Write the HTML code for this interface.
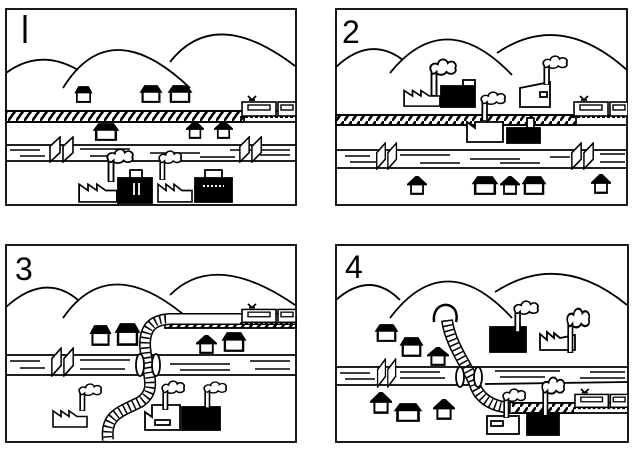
<!DOCTYPE html>
<html><head><meta charset="utf-8"><style>html,body{margin:0;padding:0;background:#fff}svg{display:block}</style></head>
<body>
<svg width="640" height="449" viewBox="0 0 640 449" xmlns="http://www.w3.org/2000/svg" fill="none" stroke="#000" stroke-width="1.8">
<defs>
<pattern id="hatch" patternUnits="userSpaceOnUse" width="8" height="11"><line x1="0" y1="11" x2="8" y2="0" stroke="#000" stroke-width="2.6"/></pattern>
<symbol id="H" viewBox="0 0 20 16" preserveAspectRatio="none"><polygon points="2,6 5,1 15,1 18,6" fill="#000"/><rect x="3" y="6" width="14" height="9" fill="#fff" stroke="#000" stroke-width="1.8"/></symbol>
<symbol id="P" viewBox="0 0 20 16" preserveAspectRatio="none"><polygon points="1,7 10,0 19,7" fill="#000"/><rect x="4" y="7" width="12" height="8" fill="#fff" stroke="#000" stroke-width="1.8"/></symbol>
<symbol id="F" viewBox="0 0 36 24" preserveAspectRatio="none"><path d="M1,23 V6 L9,12 V6 L17,12 V6 L25,12 H35 V23 Z" fill="#fff" stroke="#000" stroke-width="1.6"/></symbol>
<symbol id="S" viewBox="0 0 24 30" preserveAspectRatio="none"><rect x="2" y="10" width="4" height="20" fill="#fff" stroke="#000" stroke-width="1.5"/><path d="M2,11 C-1,6 4,3 7,5 C8,0 14,0 15,4 C18,1 23,4 21,8 C23,12 17,14 14,11 C12,14 6,14 6,11 C4,13 2,13 2,11Z" fill="#fff" stroke="#000" stroke-width="1.5"/></symbol>
<symbol id="T" viewBox="0 0 56 24" preserveAspectRatio="none"><path d="M8,1 L12,5 L16,1 M9,5 H15" stroke="#000" stroke-width="1.8"/><rect x="2" y="7" width="34" height="14" fill="#fff" stroke="#000" stroke-width="1.6"/><rect x="8" y="10" width="22" height="5" fill="#fff" stroke="#000" stroke-width="1.4"/><rect x="38" y="7" width="18" height="14" fill="#fff" stroke="#000" stroke-width="1.6"/><rect x="41" y="10" width="12" height="5" fill="#fff" stroke="#000" stroke-width="1.4"/><line x1="0" y1="22" x2="56" y2="22" stroke="#000" stroke-width="2" stroke-dasharray="3 2"/></symbol>
<symbol id="L" viewBox="0 0 28 26" preserveAspectRatio="none"><path d="M2,25 V10 L12,1 V16 Z M15,25 V10 L25,1 V16 Z" fill="#fff" stroke="#000" stroke-width="1.6"/></symbol>
</defs>

<!-- PANEL 1 -->
<rect x="6" y="9" width="290" height="196"/>
<line x1="25" y1="15" x2="25" y2="43" stroke-width="3"/>
<path d="M6,73 Q40,48 78,70 M63,88 Q110,12 190,88 M170,62 Q215,5 295,66"/>
<use href="#H" x="74" y="86" width="19" height="17"/>
<use href="#H" x="139" y="85" width="24" height="18"/>
<use href="#H" x="167" y="85" width="26" height="18"/>
<rect x="6" y="111" width="238" height="11" fill="url(#hatch)"/>
<line x1="6" y1="111" x2="296" y2="111"/><line x1="6" y1="122" x2="296" y2="122"/>
<use href="#T" x="240" y="95" width="56" height="24"/>
<use href="#H" x="92" y="123" width="28" height="18"/>
<use href="#P" x="186" y="121" width="18" height="18"/>
<use href="#P" x="214" y="121" width="19" height="18"/>
<line x1="6" y1="145" x2="296" y2="145"/><line x1="6" y1="161" x2="296" y2="161"/>
<path d="M10,150 H40 M80,149 H130 M150,153 H200 M230,150 H290 M20,156 H45 M90,156 H120 M200,157 H235 M260,155 H290" stroke-width="1.4"/>
<use href="#L" x="48" y="136" width="28" height="27"/>
<use href="#L" x="238" y="136" width="26" height="27"/>
<use href="#F" x="78" y="178" width="40" height="25"/>
<use href="#S" x="106" y="148" width="30" height="34"/>
<rect x="118" y="178" width="34" height="25" fill="#000"/><rect x="130" y="170" width="12" height="8" fill="#fff"/>
<line x1="134" y1="183" x2="134" y2="195" stroke="#fff"/><line x1="139" y1="183" x2="139" y2="195" stroke="#fff"/>
<use href="#F" x="157" y="178" width="36" height="25"/>
<use href="#S" x="158" y="150" width="26" height="30"/>
<rect x="195" y="178" width="37" height="24" fill="#000"/><rect x="205" y="170" width="17" height="8" fill="#fff"/>
<line x1="203" y1="186" x2="224" y2="186" stroke="#fff" stroke-width="2" stroke-dasharray="2 2"/>

<!-- PANEL 2 -->
<rect x="336" y="9" width="291" height="196"/>
<text x="342" y="43" font-family="Liberation Sans, sans-serif" font-size="32" fill="#000" stroke="none">2</text>
<path d="M336,67 Q370,35 403,60 M390,73 Q445,5 512,75 M497,53 Q560,10 627,70"/>
<use href="#F" x="403" y="85" width="38" height="22"/>
<use href="#S" x="429" y="58" width="30" height="38"/>
<rect x="441" y="86" width="34" height="21" fill="#000"/><rect x="463" y="80" width="12" height="6" fill="#fff"/>
<path d="M520,107 V88 L550,82 V107 Z" fill="#fff"/><rect x="540" y="92" width="7" height="5"/>
<use href="#S" x="542" y="55" width="28" height="30"/>
<rect x="336" y="115" width="240" height="10" fill="url(#hatch)"/>
<line x1="336" y1="115" x2="627" y2="115"/><line x1="336" y1="125" x2="627" y2="125"/>
<use href="#T" x="572" y="95" width="56" height="24"/>
<path d="M467,142 V122 L475,128 V122 L503,122 V142 Z" fill="#fff"/>
<use href="#S" x="480" y="91" width="28" height="30"/>
<rect x="507" y="128" width="33" height="15" fill="#000"/><rect x="527" y="118" width="7" height="10" fill="#fff"/>
<line x1="336" y1="150" x2="627" y2="150"/><line x1="336" y1="168" x2="627" y2="168"/>
<path d="M345,156 H370 M400,155 H450 M470,159 H520 M550,157 H570 M600,154 H625 M350,162 H380 M420,163 H460 M500,163 H540 M600,162 H625" stroke-width="1.4"/>
<use href="#L" x="375" y="142" width="24" height="28"/>
<use href="#L" x="570" y="142" width="26" height="28"/>
<use href="#P" x="407" y="176" width="20" height="19"/>
<use href="#H" x="471" y="176" width="28" height="19"/>
<use href="#P" x="500" y="176" width="20" height="19"/>
<use href="#H" x="521" y="176" width="26" height="19"/>
<use href="#P" x="591" y="174" width="20" height="20"/>

<!-- PANEL 3 -->
<rect x="6" y="245" width="290" height="197"/>
<text x="15" y="280" font-family="Liberation Sans, sans-serif" font-size="32" fill="#000" stroke="none">3</text>
<path d="M6,307 Q45,272 78,300 M63,318 Q110,250 190,320 M170,295 Q215,250 295,305"/>
<use href="#H" x="89" y="325" width="23" height="21"/>
<use href="#H" x="114" y="323" width="27" height="23"/>
<use href="#P" x="196" y="335" width="21" height="19"/>
<use href="#H" x="221" y="332" width="26" height="20"/>
<line x1="6" y1="355" x2="296" y2="355"/><line x1="6" y1="375" x2="296" y2="375"/>
<path d="M10,361 H40 M80,360 H130 M170,364 H230 M250,361 H290 M20,368 H45 M80,369 H125 M180,370 H230 M255,369 H290" stroke-width="1.4"/>
<use href="#L" x="50" y="347" width="26" height="30"/>
<rect x="165" y="318" width="131" height="10" fill="url(#hatch)"/>
<path d="M296,319 H170 C150,320 145,330 145,345 C147,375 158,390 140,402 C120,412 105,415 108,440" stroke-width="12"/>
<path d="M296,319 H170 C150,320 145,330 145,345 C147,375 158,390 140,402 C120,412 105,415 108,440" stroke="#fff" stroke-width="9"/>
<path d="M166,319 C150,320 145,330 145,345 C147,375 158,390 140,402 C120,412 105,415 108,440" stroke-width="9" stroke-dasharray="1.5 3.5"/>
<ellipse cx="140" cy="365" rx="4" ry="11" fill="#fff"/><ellipse cx="156" cy="365" rx="4" ry="11" fill="#fff"/>
<use href="#T" x="240" y="303" width="56" height="22"/>
<use href="#F" x="52" y="405" width="36" height="23"/>
<use href="#S" x="78" y="383" width="26" height="28"/>
<path d="M145,430 V412 L152,417 V405 H180 V430 Z" fill="#fff"/><rect x="155" y="420" width="15" height="5"/>
<use href="#S" x="161" y="380" width="26" height="30"/>
<rect x="182" y="407" width="38" height="23" fill="#000"/>
<use href="#S" x="203" y="381" width="26" height="27"/>

<!-- PANEL 4 -->
<rect x="336" y="245" width="292" height="197"/>
<text x="345" y="278" font-family="Liberation Sans, sans-serif" font-size="32" fill="#000" stroke="none">4</text>
<path d="M336,300 Q370,270 400,300 M390,318 Q445,245 512,318 M495,292 Q560,250 627,305"/>
<path d="M434,322 C432,305 448,300 455,310 C458,316 456,322 456,322" stroke-width="2.5"/>
<path d="M447,320 C450,345 470,370 475,385 C480,400 495,408 515,408 H575" stroke-width="12"/>
<path d="M447,320 C450,345 470,370 475,385 C480,400 495,408 515,408 H575" stroke="#fff" stroke-width="9"/>
<path d="M447,320 C450,345 470,370 475,385 C480,400 495,408 512,408" stroke-width="9" stroke-dasharray="1.5 3.5"/>
<rect x="512" y="403" width="62" height="10" fill="url(#hatch)" stroke="none"/>
<line x1="512" y1="403" x2="628" y2="403"/><line x1="512" y1="413" x2="628" y2="413"/>
<use href="#T" x="573" y="388" width="55" height="22"/>
<rect x="490" y="327" width="36" height="25" fill="#000"/>
<use href="#S" x="513" y="300" width="28" height="32"/>
<path d="M540,350 V334 L547,340 V332 L554,338 V333 L560,338 L575,335 V350 Z" fill="#fff"/>
<use href="#S" x="566" y="307" width="26" height="46"/>
<use href="#H" x="374" y="324" width="25" height="18"/>
<use href="#H" x="399" y="337" width="25" height="20"/>
<use href="#P" x="427" y="347" width="22" height="19"/>
<line x1="336" y1="367" x2="628" y2="367"/><line x1="336" y1="385" x2="470" y2="385"/><line x1="485" y1="384" x2="628" y2="382"/>
<path d="M340,373 H370 M400,372 H440 M495,371 H560 M590,372 H625 M345,379 H375 M400,378 H445 M500,377 H545 M580,378 H625" stroke-width="1.4"/>
<use href="#L" x="376" y="358" width="22" height="30"/>
<ellipse cx="460" cy="377" rx="4" ry="10" fill="#fff"/><ellipse cx="478" cy="377" rx="4" ry="10" fill="#fff"/>
<use href="#P" x="370" y="392" width="22" height="22"/>
<use href="#H" x="393" y="403" width="30" height="19"/>
<use href="#P" x="433" y="399" width="22" height="21"/>
<rect x="487" y="416" width="32" height="18" fill="#fff"/><rect x="491" y="421" width="12" height="5"/>
<use href="#S" x="502" y="388" width="26" height="30"/>
<rect x="527" y="413" width="32" height="22" fill="#000"/>
<use href="#S" x="541" y="376" width="26" height="40"/>
</svg>
</body></html>
